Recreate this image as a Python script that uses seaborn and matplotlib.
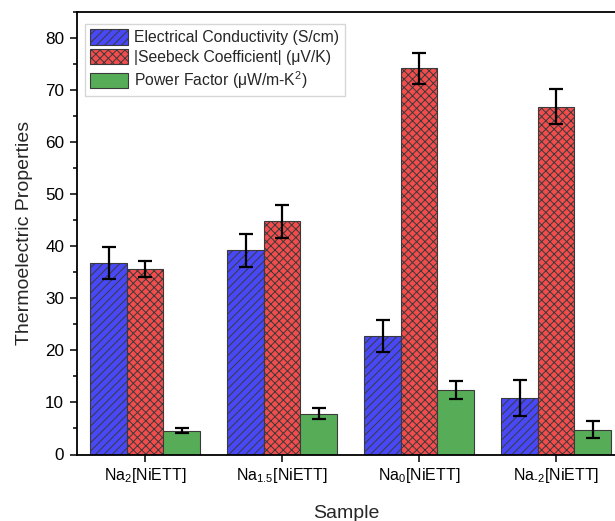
import matplotlib
matplotlib.use("Agg")
import matplotlib.pyplot as plt
from matplotlib.ticker import MultipleLocator
import pandas as pd
import seaborn as sns

samples = ["Na$_2$[NiETT]", "Na$_{1.5}$[NiETT]", "Na$_0$[NiETT]", "Na$_{\\text{-}2}$[NiETT]"]
series = ["Electrical Conductivity (S/cm)",
          "|Seebeck Coefficient| (μV/K)",
          "Power Factor (μW/m-K$^2$)"]
conductivity = [36.8, 39.2, 22.7, 10.9]
conductivity_err = [3.0, 3.2, 3.05, 3.5]
seebeck = [35.6, 44.8, 74.2, 66.8]
seebeck_err = [1.5, 3.2, 3.0, 3.4]
power_factor = [4.6, 7.8, 12.4, 4.75]
power_factor_err = [0.45, 1.05, 1.75, 1.6]

colors = ["#4848F6", "#F24C4C", "#57AD57"]
hatches = ["////", "xxxx", ""]

sns.set_theme(style="ticks")
plt.rcParams["font.family"] = ["Liberation Sans", "DejaVu Sans"]
plt.rcParams["mathtext.fontset"] = "custom"
plt.rcParams["mathtext.rm"] = "Liberation Sans"
plt.rcParams["mathtext.it"] = "Liberation Sans:italic"
plt.rcParams["hatch.linewidth"] = 0.7

values = [conductivity, seebeck, power_factor]
errors = [conductivity_err, seebeck_err, power_factor_err]
df = pd.DataFrame({
    "Sample": [s for _ in series for s in samples],
    "Property": [name for name in series for _ in samples],
    "Value": [v for vals in values for v in vals],
})

fig = plt.figure(figsize=(6.15, 5.21), dpi=100)
ax = fig.add_axes([76.7 / 615, 66.5 / 521, (615 - 76.7) / 615, (454.5 - 12) / 521])

sns.barplot(data=df, x="Sample", y="Value", hue="Property", order=samples,
            hue_order=series, palette=colors, errorbar=None, width=0.8, gap=0,
            saturation=1, edgecolor="#3a3a3a", linewidth=0.8, ax=ax)

# hatch each series and add its error bars on the bar centres
bar_groups = list(ax.containers)
for k, container in enumerate(bar_groups):
    xs = []
    for patch in container:
        patch.set_hatch(hatches[k])
        xs.append(patch.get_x() + patch.get_width() / 2)
    ax.errorbar(xs, values[k], yerr=errors[k], fmt="none", ecolor="black",
                elinewidth=1.6, capsize=5, capthick=1.6, zorder=5)

ax.set_xlim(-0.5, 3.43)
ax.set_ylim(0, 85)
ax.yaxis.set_major_locator(MultipleLocator(10))
ax.yaxis.set_minor_locator(MultipleLocator(5))
ax.tick_params(axis="both", which="major", direction="out", length=5, width=1.1,
               color="black", labelcolor="black")
ax.tick_params(axis="x", labelsize=11.5)
ax.tick_params(axis="y", labelsize=12.3, pad=4)
ax.tick_params(axis="y", which="minor", direction="out", length=3, width=1.1, color="black")
for side in ["left", "bottom", "top"]:
    ax.spines[side].set_linewidth(1.3)
    ax.spines[side].set_color("black")
ax.spines["right"].set_visible(False)

ax.set_xlabel("Sample", fontsize=14, labelpad=14)
ax.set_ylabel("Thermoelectric Properties", fontsize=14, labelpad=9)

handles, labels = ax.get_legend_handles_labels()
for h, hatch in zip(handles, hatches):
    h.set_hatch(hatch)
leg = ax.legend(handles, labels, loc="upper left", bbox_to_anchor=(0.015, 0.973),
                borderaxespad=0, fontsize=11.3, frameon=True, fancybox=False,
                edgecolor="#cccccc", handlelength=2.4, handleheight=1.1,
                handletextpad=0.4, labelspacing=0.25, borderpad=0.35)
leg.get_frame().set_linewidth(1.0)

fig.savefig("out.png", dpi=100)
